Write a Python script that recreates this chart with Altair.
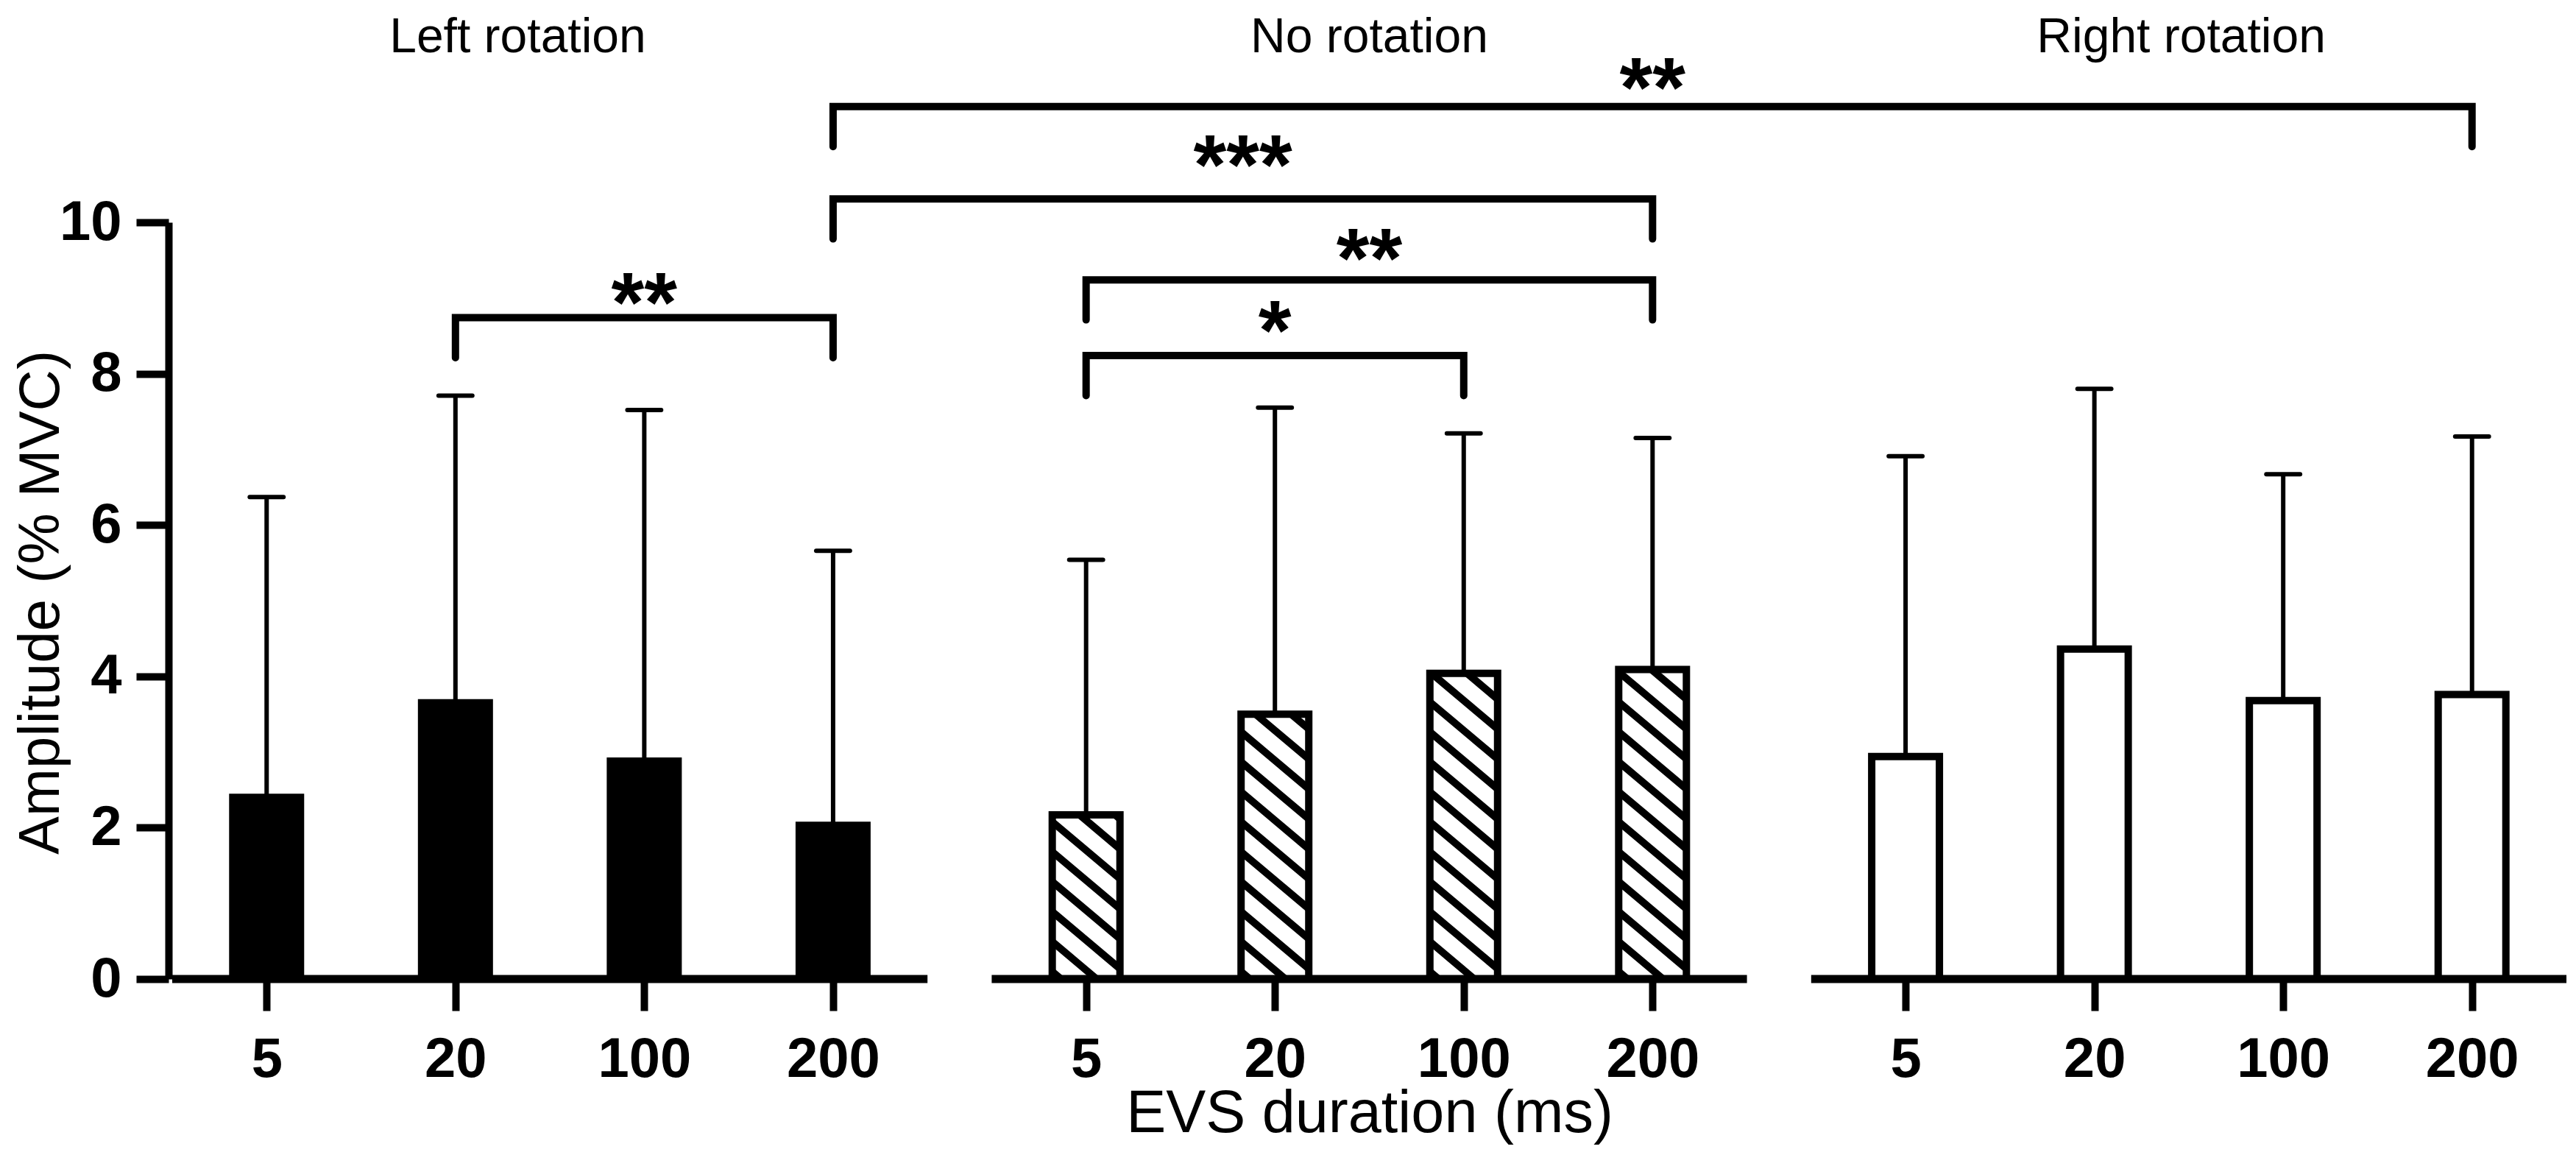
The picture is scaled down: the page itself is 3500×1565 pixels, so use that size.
import altair as alt
import pandas as pd

# ---------------- data ----------------
panels = ["Left rotation", "No rotation", "Right rotation"]
durations = ["5", "20", "100", "200"]
mean_left = [2.40, 3.65, 2.88, 2.03]
upper_left = [6.37, 7.71, 7.52, 5.66]
mean_none = [2.17, 3.50, 4.04, 4.09]
upper_none = [5.54, 7.55, 7.21, 7.15]
mean_right = [2.94, 4.36, 3.68, 3.76]
upper_right = [6.91, 7.80, 6.67, 7.17]

# significance brackets: (panel, duration index) pairs
bracket_from = [(0, 1), (1, 0), (1, 0), (0, 3), (0, 3)]
bracket_to = [(0, 3), (1, 2), (1, 3), (1, 3), (2, 3)]
bracket_height = [8.74, 8.24, 9.24, 10.31, 11.53]
star_height = [9.11, 8.75, 9.70, 10.93, 11.96]
star_labels = ["**", "*", "**", "***", "**"]

# ---------------- layout ----------------
GAP = 4.34            # offset between panels (in bar slots)
LEG = 0.53            # bracket leg length (y units)
PLOT_W = 3263
PLOT_H = 1028
X_MIN = -0.5
X_MAX = 2 * GAP + 3.5
PPX = PLOT_W / (X_MAX - X_MIN)
PPY = PLOT_H / 10.0
BAR_W = 92
FONT = "Liberation Sans"
TITLE_SHIFT = [-0.17, 0.0, -0.04]
TITLE_Y = 12.25

means = [mean_left, mean_none, mean_right]
uppers = [upper_left, upper_none, upper_right]

rows = []
for p, panel in enumerate(panels):
    for i, d in enumerate(durations):
        rows.append({"panel": panel, "duration": d, "x": round(p * GAP + i, 4),
                     "mean": means[p][i], "upper": uppers[p][i]})
bars = pd.DataFrame(rows)
tick_positions = list(bars["x"])

# hatch segments for the "No rotation" bars (derived from bar heights)
slope = 0.84
spacing = 40.7
half = BAR_W / 2
hatch_rows = []
for r in rows:
    if r["panel"] != panels[1]:
        continue
    H = r["mean"] * PPY
    k = 0
    while k < 200:
        b = 10 + k * spacing
        t_lo = max(0.0, (b - H) / slope)
        t_hi = min(float(BAR_W), b / slope)
        if t_lo >= BAR_W:
            break
        if t_lo < t_hi:
            hatch_rows.append({
                "x1": r["x"] + (t_lo - half) / PPX, "y1": (b - slope * t_lo) / PPY,
                "x2": r["x"] + (t_hi - half) / PPX, "y2": (b - slope * t_hi) / PPY,
            })
        k += 1
hatch = pd.DataFrame(hatch_rows)

# brackets
br_rows = []
st_rows = []
for j in range(len(star_labels)):
    xa = bracket_from[j][0] * GAP + bracket_from[j][1]
    xb = bracket_to[j][0] * GAP + bracket_to[j][1]
    h = bracket_height[j]
    pts = [(xa, h - LEG), (xa, h), (xb, h), (xb, h - LEG)]
    for o, (px, py) in enumerate(pts):
        br_rows.append({"id": j, "order": o, "x": px, "y": py})
    st_rows.append({"x": (xa + xb) / 2, "y": star_height[j], "label": star_labels[j]})
brackets = pd.DataFrame(br_rows)
stars = pd.DataFrame(st_rows)

base = pd.DataFrame({"panel": panels,
                     "x0": [p * GAP - 0.5 for p in range(3)],
                     "x1": [p * GAP + 3.5 for p in range(3)],
                     "xc": [p * GAP + 1.5 + TITLE_SHIFT[p] for p in range(3)],
                     "ty": [TITLE_Y] * 3})

# ---------------- encodings ----------------
xscale = alt.Scale(domain=[X_MIN, X_MAX], nice=False, zero=False)
yscale = alt.Scale(domain=[0, 10], nice=False)

label_expr = ("[" + ",".join("'" + d + "'" for d in durations) + "]"
              "[round(datum.value - %s*floor((datum.value+0.5)/%s))]" % (GAP, GAP))

x_axis = alt.Axis(values=tick_positions, labelExpr=label_expr, title="EVS duration (ms)",
                  domain=False, grid=False, tickSize=43, tickWidth=10, tickColor="black",
                  labelFontSize=76, labelFontWeight="bold", labelColor="black",
                  labelPadding=89, labelBaseline="alphabetic", labelOverlap=False,
                  labelBound=False, labelFlush=False, titleFontSize=81,
                  titleFontWeight="normal", titleY=207, titleBaseline="alphabetic",
                  titleColor="black")
y_axis = alt.Axis(values=[0, 2, 4, 6, 8, 10], title="Amplitude (% MVC)", grid=False,
                  domainWidth=10, domainColor="black", tickSize=44, tickWidth=10,
                  tickColor="black", labelFontSize=76, labelFontWeight="bold",
                  labelPadding=20, labelColor="black", titleFontSize=78,
                  titleFontWeight="normal", titleAngle=270, titleX=-150, titleY=516,
                  titleAlign="center", titleBaseline="alphabetic", titleColor="black")


def X(field):
    return alt.X(field, scale=xscale, axis=x_axis)


def Y(field, **kw):
    return alt.Y(field, scale=yscale, axis=y_axis, **kw)


bar_fill = alt.Chart(bars).mark_bar(width=BAR_W).encode(
    x=X("x:Q"),
    y=Y("mean:Q", stack=None),
    color=alt.Color("panel:N", scale=alt.Scale(domain=panels, range=["black", "white", "white"]),
                    legend=None),
)

hatch_layer = alt.Chart(hatch).mark_rule(strokeWidth=10, color="black", strokeCap="butt").encode(
    x=X("x1:Q"), x2="x2:Q", y=Y("y1:Q"), y2="y2:Q",
)

bar_outline = alt.Chart(bars).mark_bar(width=BAR_W, fillOpacity=0, stroke="black",
                                       strokeWidth=10, strokeJoin="miter").encode(
    x=X("x:Q"), y=Y("mean:Q", stack=None),
)

err = alt.Chart(bars).mark_rule(strokeWidth=6, color="black").encode(
    x=X("x:Q"), y=Y("mean:Q"), y2="upper:Q",
)

CAP = 23 / PPX
caps = alt.Chart(bars).transform_calculate(
    xl="datum.x - %f" % CAP, xr="datum.x + %f" % CAP
).mark_rule(strokeWidth=6, color="black", strokeCap="round").encode(
    x=X("xl:Q"), x2="xr:Q", y=Y("upper:Q"),
)

baselines = alt.Chart(base).transform_calculate(zero="0").mark_rule(
    strokeWidth=11, color="black", strokeCap="butt").encode(
    x=X("x0:Q"), x2="x1:Q", y=Y("zero:Q"),
)

bracket_layer = alt.Chart(brackets).mark_line(strokeWidth=10, color="black",
                                              strokeJoin="miter", strokeCap="round").encode(
    x=X("x:Q"), y=Y("y:Q"), detail="id:N", order="order:Q",
)

star_layer = alt.Chart(stars).mark_text(fontSize=115, fontWeight="bold", align="center",
                                        baseline="alphabetic", dy=57, color="black",
                                        font=FONT).encode(
    x=X("x:Q"), y=Y("y:Q"), text="label:N",
)

titles = alt.Chart(base).mark_text(fontSize=66, align="center", baseline="alphabetic",
                                   color="black", font=FONT).encode(
    x=X("xc:Q"), y=Y("ty:Q"), text="panel:N",
)

chart = alt.layer(
    bar_fill, hatch_layer, bar_outline, err, caps, baselines, bracket_layer, star_layer, titles
).properties(
    width=PLOT_W, height=PLOT_H,
    autosize=alt.AutoSizeParams(type="none"),
    padding={"left": 221, "top": 294, "right": 0, "bottom": 227},
    background="white",
).configure(font=FONT).configure_view(strokeWidth=0)

chart.save("out.html", embed_options={"renderer": "svg", "actions": False})
